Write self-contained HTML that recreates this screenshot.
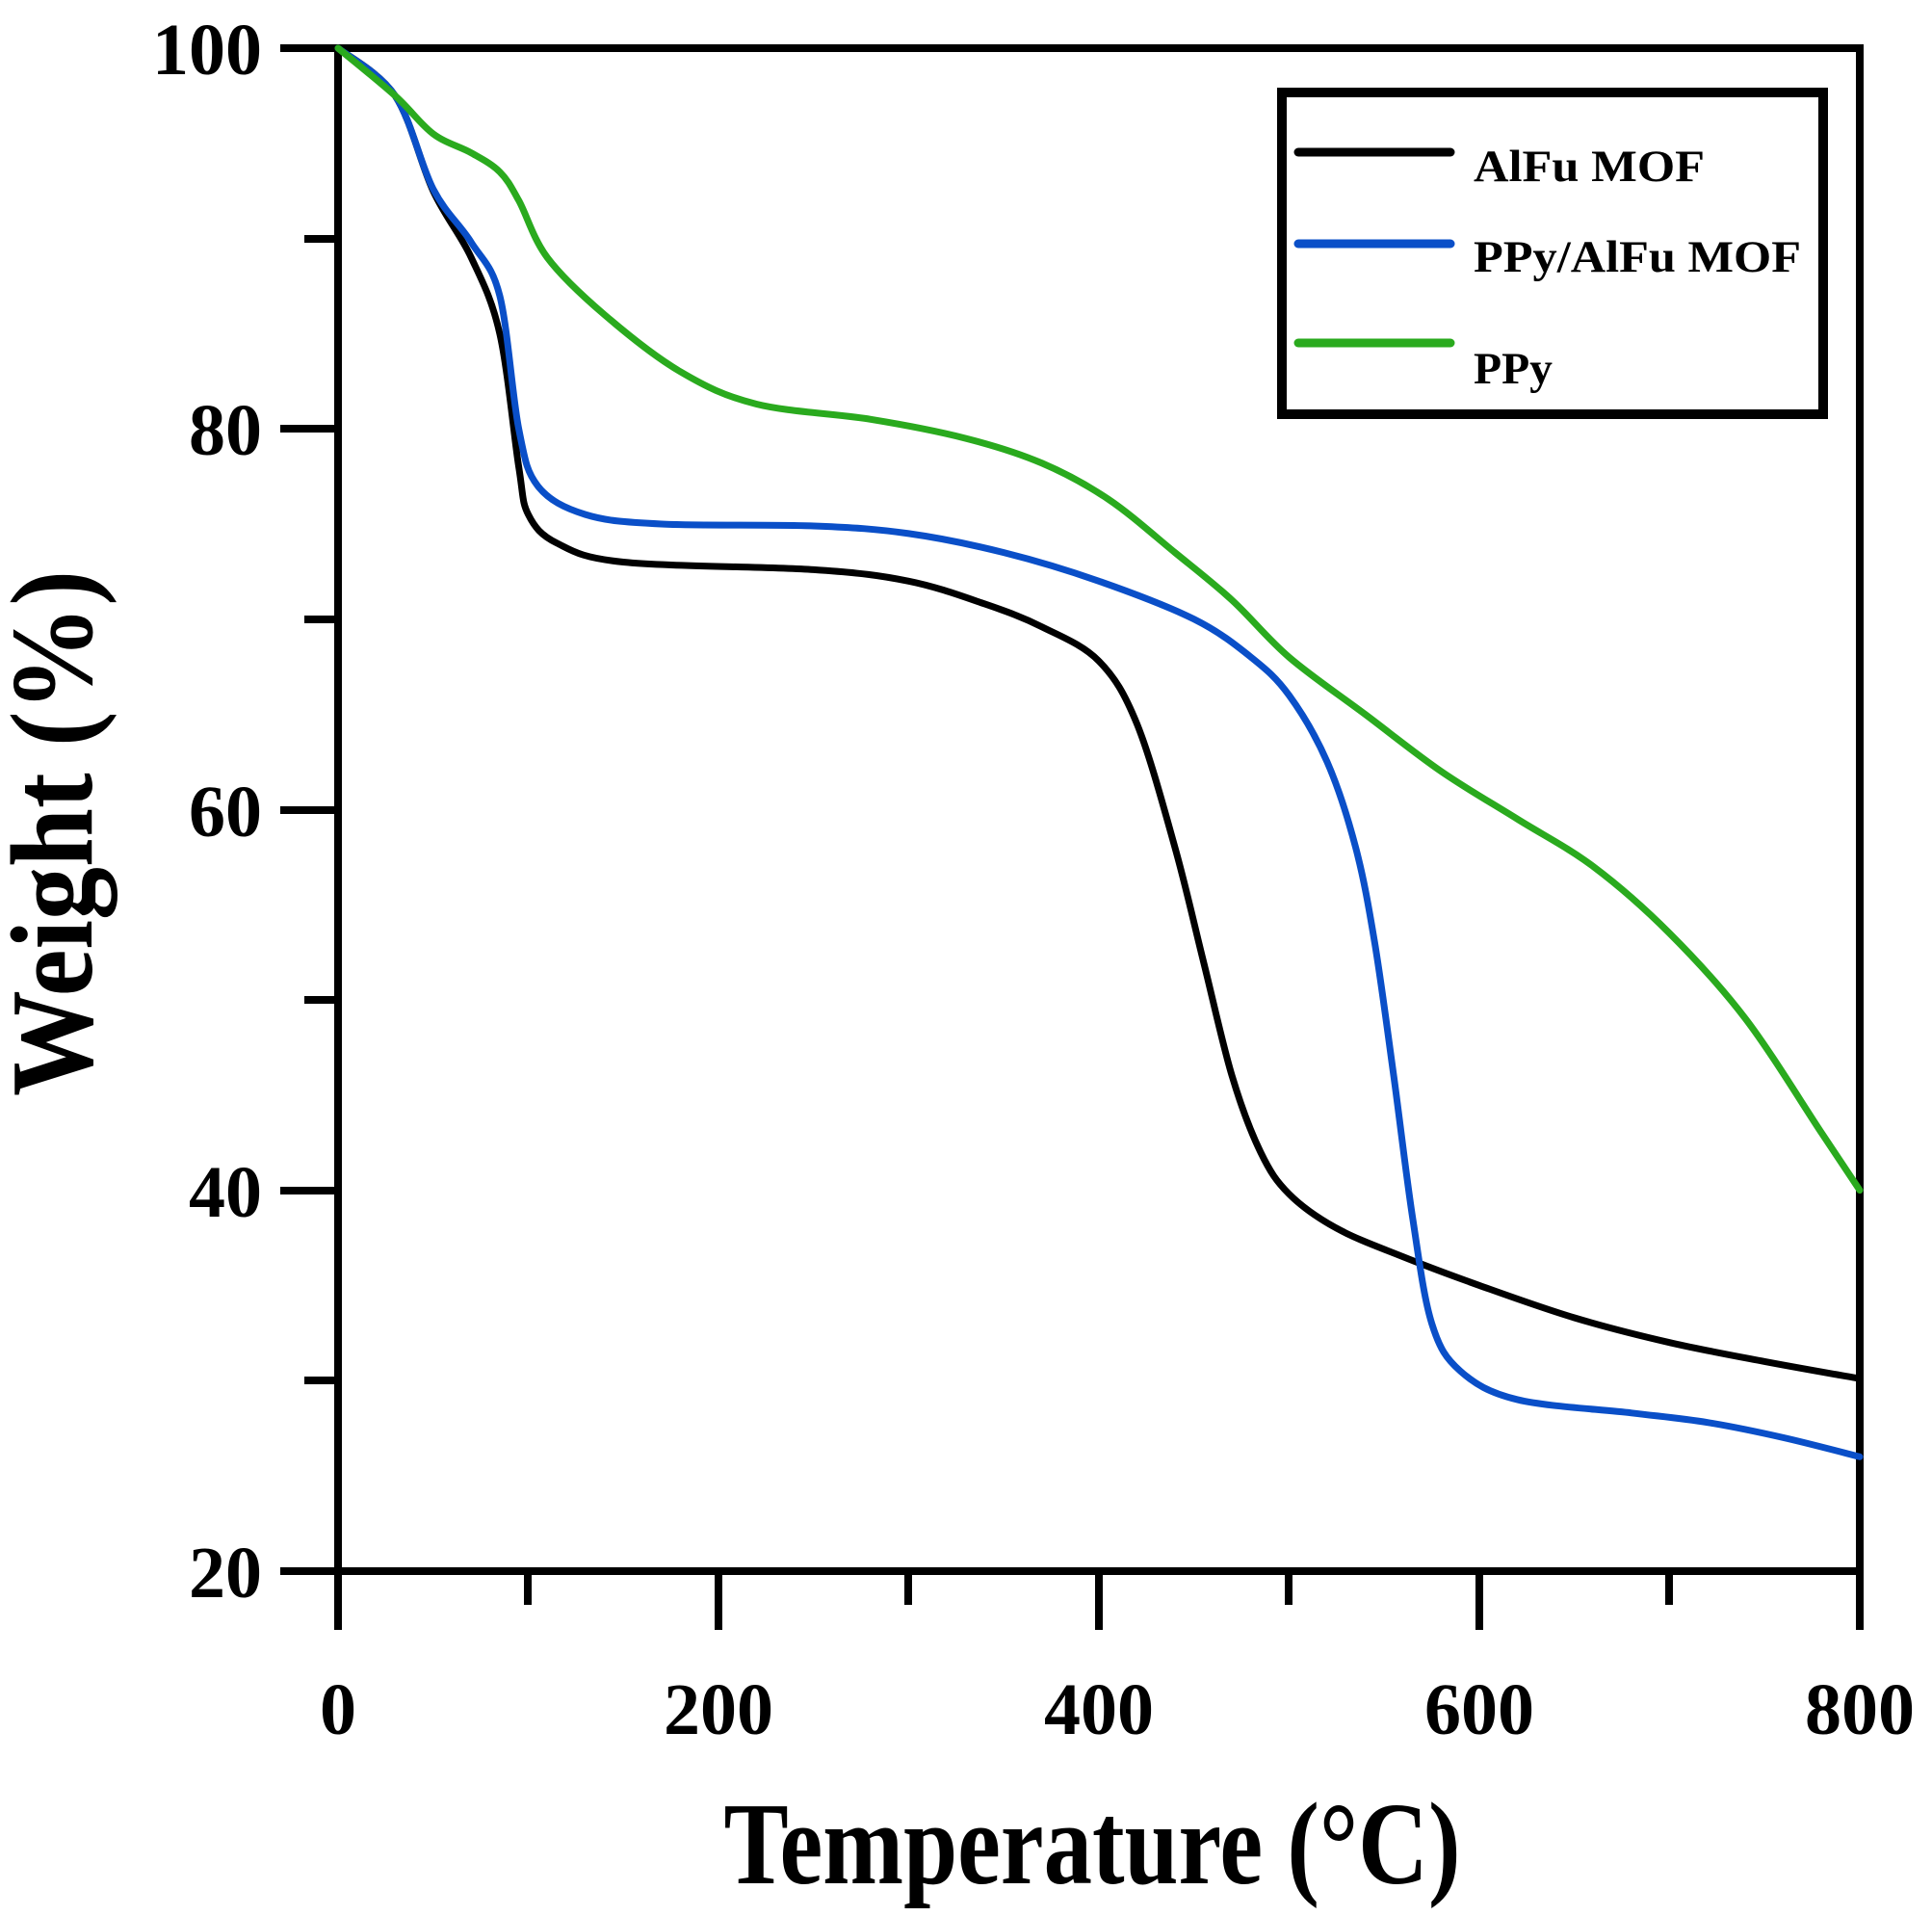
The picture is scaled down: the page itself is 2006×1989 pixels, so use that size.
<!DOCTYPE html>
<html><head><meta charset="utf-8"><style>
html,body{margin:0;padding:0;background:#fff}
svg{display:block}
text{font-family:"Liberation Serif","Times New Roman",Times,serif;font-weight:bold;fill:#000}
</style></head><body>
<svg id="s" width="2006" height="1989" viewBox="0 0 2006 1989" xmlns="http://www.w3.org/2000/svg">
<g stroke="#000" stroke-width="8" fill="none" stroke-linecap="square">
<rect x="351" y="50" width="1580" height="1581"/>
<line x1="295" y1="50" x2="351" y2="50"/>
<line x1="295" y1="445" x2="351" y2="445"/>
<line x1="295" y1="841" x2="351" y2="841"/>
<line x1="295" y1="1236" x2="351" y2="1236"/>
<line x1="295" y1="1631" x2="351" y2="1631"/>
<line x1="320" y1="248" x2="351" y2="248"/>
<line x1="320" y1="643" x2="351" y2="643"/>
<line x1="320" y1="1038" x2="351" y2="1038"/>
<line x1="320" y1="1433" x2="351" y2="1433"/>
<line x1="351" y1="1631" x2="351" y2="1688"/>
<line x1="746" y1="1631" x2="746" y2="1688"/>
<line x1="1141" y1="1631" x2="1141" y2="1688"/>
<line x1="1536" y1="1631" x2="1536" y2="1688"/>
<line x1="1931" y1="1631" x2="1931" y2="1688"/>
<line x1="548" y1="1631" x2="548" y2="1662"/>
<line x1="943" y1="1631" x2="943" y2="1662"/>
<line x1="1338" y1="1631" x2="1338" y2="1662"/>
<line x1="1733" y1="1631" x2="1733" y2="1662"/>
</g>
<g font-size="76" text-anchor="end">
<text x="272" y="77" textLength="114" lengthAdjust="spacingAndGlyphs">100</text>
<text x="272" y="472" textLength="76" lengthAdjust="spacingAndGlyphs">80</text>
<text x="272" y="868" textLength="76" lengthAdjust="spacingAndGlyphs">60</text>
<text x="272" y="1263" textLength="76" lengthAdjust="spacingAndGlyphs">40</text>
<text x="272" y="1658" textLength="76" lengthAdjust="spacingAndGlyphs">20</text>
</g>
<g font-size="76" text-anchor="middle">
<text x="351" y="1800" textLength="38" lengthAdjust="spacingAndGlyphs">0</text>
<text x="746" y="1800" textLength="114" lengthAdjust="spacingAndGlyphs">200</text>
<text x="1141" y="1800" textLength="114" lengthAdjust="spacingAndGlyphs">400</text>
<text x="1536" y="1800" textLength="114" lengthAdjust="spacingAndGlyphs">600</text>
<text x="1931" y="1800" textLength="114" lengthAdjust="spacingAndGlyphs">800</text>
</g>
<text x="1134" y="1955" font-size="122" text-anchor="middle" textLength="765" lengthAdjust="spacingAndGlyphs">Temperature (°C)</text>
<text transform="translate(95,865) rotate(-90)" font-size="122" text-anchor="middle" textLength="546" lengthAdjust="spacingAndGlyphs">Weight (%)</text>
<g id="curves" fill="none" stroke-width="7" stroke-linejoin="round" stroke-linecap="round"></g>
<rect x="1331" y="96" width="562" height="334" fill="#fff" stroke="#000" stroke-width="10"/>
<g stroke-width="9" stroke-linecap="round">
<line x1="1348" y1="158" x2="1506" y2="158" stroke="#000"/>
<line x1="1348" y1="253" x2="1506" y2="253" stroke="#0a4fc8"/>
<line x1="1348" y1="356" x2="1506" y2="356" stroke="#2aaa1e"/>
</g>
<g font-size="47">
<text x="1530" y="188" textLength="240" lengthAdjust="spacingAndGlyphs">AlFu MOF</text>
<text x="1530" y="282" textLength="340" lengthAdjust="spacingAndGlyphs">PPy/AlFu MOF</text>
<text x="1530" y="398" textLength="82" lengthAdjust="spacingAndGlyphs">PPy</text>
</g>
</svg>
<script>
var X=t=>351+t*1.975, Y=w=>50+(100-w)*19.76;
var data={
"#000":[[0,100],[30,97.5],[50,92.5],[70,89],[85,85],[95,78],[100,75.5],[115,74],[150,73],[250,72.6],[300,72],[340,70.8],[370,69.6],[400,67.8],[420,64.5],[440,58],[455,52],[470,46],[485,42],[500,39.8],[525,38],[560,36.5],[600,35],[650,33.3],[700,32],[750,31],[800,30.1]],
"#0a4fc8":[[0,100],[30,97.5],[50,92.6],[70,89.8],[85,87],[95,80],[105,77],[130,75.5],[170,75],[250,74.9],[300,74.5],[350,73.5],[400,72],[450,70],[480,68],[500,66],[520,62.5],[535,58],[545,53],[555,46],[565,38.5],[575,33],[590,30.5],[620,29],[680,28.3],[720,27.8],[760,27],[800,26]],
"#2aaa1e":[[0,100],[30,97.5],[50,95.5],[70,94.5],[85,93.5],[95,92],[110,89],[140,86],[180,83],[220,81.3],[280,80.5],[330,79.5],[370,78.2],[405,76.3],[440,73.5],[470,71],[500,68],[540,65],[580,62],[620,59.5],[660,57],[700,53.5],[740,49],[780,43],[800,40]]};
var g=document.getElementById('curves'),ns="http://www.w3.org/2000/svg";
for(var c in data){var p=data[c].map(a=>[X(a[0]),Y(a[1])]);var d="M"+p[0];
for(var i=0;i<p.length-1;i++){var p0=p[i-1]||p[i],p1=p[i],p2=p[i+1],p3=p[i+2]||p2;
d+=" C"+(p1[0]+(p2[0]-p0[0])/6)+","+(p1[1]+(p2[1]-p0[1])/6)+" "+(p2[0]-(p3[0]-p1[0])/6)+","+(p2[1]-(p3[1]-p1[1])/6)+" "+p2;}
var e=document.createElementNS(ns,"path");e.setAttribute("d",d);e.setAttribute("stroke",c);g.appendChild(e);}
</script>
</body></html>
